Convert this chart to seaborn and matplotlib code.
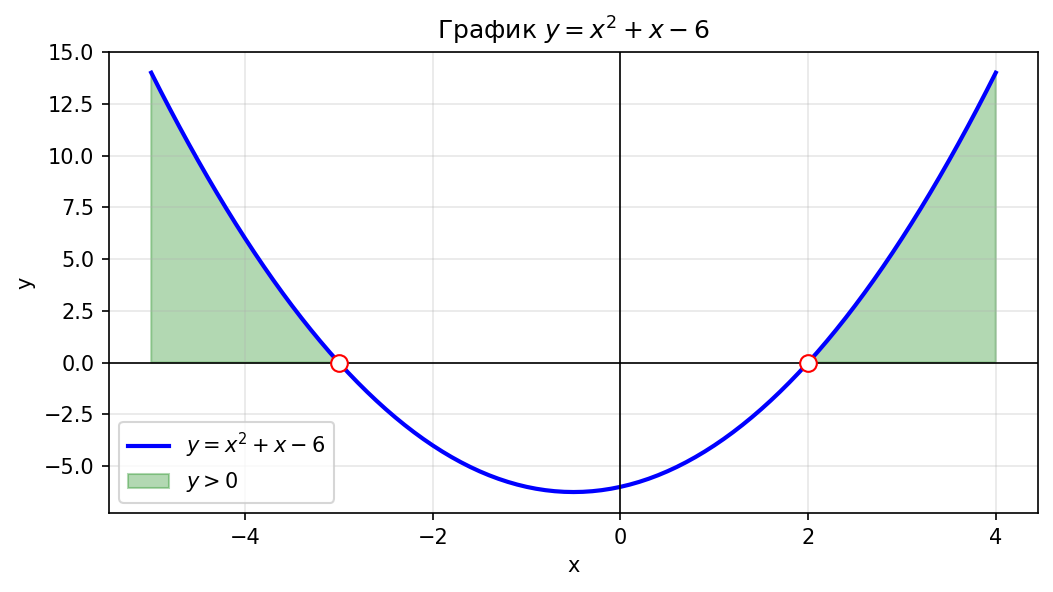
import numpy as np
import pandas as pd
import matplotlib
matplotlib.use("Agg")
import matplotlib.pyplot as plt
import seaborn as sns

# Curve samples (x step 0.1)
x_vals = [-5.0, -4.9, -4.8, -4.7, -4.6, -4.5, -4.4, -4.3, -4.2, -4.1,
          -4.0, -3.9, -3.8, -3.7, -3.6, -3.5, -3.4, -3.3, -3.2, -3.1,
          -3.0, -2.9, -2.8, -2.7, -2.6, -2.5, -2.4, -2.3, -2.2, -2.1,
          -2.0, -1.9, -1.8, -1.7, -1.6, -1.5, -1.4, -1.3, -1.2, -1.1,
          -1.0, -0.9, -0.8, -0.7, -0.6, -0.5, -0.4, -0.3, -0.2, -0.1,
          0.0, 0.1, 0.2, 0.3, 0.4, 0.5, 0.6, 0.7, 0.8, 0.9,
          1.0, 1.1, 1.2, 1.3, 1.4, 1.5, 1.6, 1.7, 1.8, 1.9,
          2.0, 2.1, 2.2, 2.3, 2.4, 2.5, 2.6, 2.7, 2.8, 2.9,
          3.0, 3.1, 3.2, 3.3, 3.4, 3.5, 3.6, 3.7, 3.8, 3.9, 4.0]
y_vals = [14.0, 13.11, 12.24, 11.39, 10.56, 9.75, 8.96, 8.19, 7.44, 6.71,
          6.0, 5.31, 4.64, 3.99, 3.36, 2.75, 2.16, 1.59, 1.04, 0.51,
          0.0, -0.49, -0.96, -1.41, -1.84, -2.25, -2.64, -3.01, -3.36, -3.69,
          -4.0, -4.29, -4.56, -4.81, -5.04, -5.25, -5.44, -5.61, -5.76, -5.89,
          -6.0, -6.09, -6.16, -6.21, -6.24, -6.25, -6.24, -6.21, -6.16, -6.09,
          -6.0, -5.89, -5.76, -5.61, -5.44, -5.25, -5.04, -4.81, -4.56, -4.29,
          -4.0, -3.69, -3.36, -3.01, -2.64, -2.25, -1.84, -1.41, -0.96, -0.49,
          0.0, 0.51, 1.04, 1.59, 2.16, 2.75, 3.36, 3.99, 4.64, 5.31,
          6.0, 6.71, 7.44, 8.19, 8.96, 9.75, 10.56, 11.39, 12.24, 13.11, 14.0]
root_x = [-3.0, 2.0]
root_y = [0.0, 0.0]

title = "График $y = x^2 + x - 6$"
line_label = "$y = x^2 + x - 6$"
fill_label = "$y > 0$"

plt.rcParams['font.family'] = ['DejaVu Sans']

fig = plt.figure(figsize=(1053/150, 592/150), dpi=150)
ax = fig.add_axes([109/1053, 1-513/592, (1038-109)/1053, (513-52)/592])

df = pd.DataFrame({"x": x_vals, "y": y_vals})
sns.lineplot(data=df, x="x", y="y", ax=ax, color="blue", linewidth=2, label=line_label, sort=False)

xa = np.array(x_vals)
ya = np.array(y_vals)
ax.fill_between(xa, ya, 0, where=ya >= -1e-9, color="green", alpha=0.3, label=fill_label)

ax.axhline(0, color="black", linewidth=0.8)
ax.axvline(0, color="black", linewidth=0.8)

sns.scatterplot(x=root_x, y=root_y, ax=ax, s=64, color="white", edgecolor="red",
                linewidth=1.0, zorder=5)

ax.set_ylim(top=15)
ax.set_title(title, fontsize=12)
ax.set_xlabel("x")
ax.set_ylabel("y")
ax.grid(True, alpha=0.3)
ax.legend(loc="lower left")

fig.savefig("out.png", dpi=150)
